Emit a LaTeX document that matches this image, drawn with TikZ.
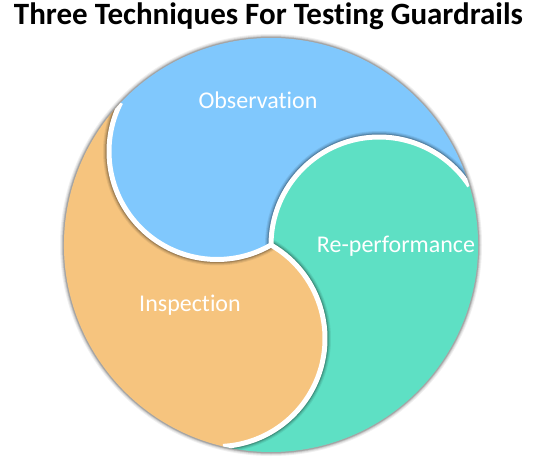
\documentclass[tikz,border=0pt]{standalone}
\usepackage{fontspec}
\setmainfont{Carlito}[Ligatures=NoCommon]
\usetikzlibrary{calc}
\definecolor{cblue}{RGB}{128,200,253}
\definecolor{cgreen}{RGB}{94,224,196}
\definecolor{corange}{RGB}{246,196,126}
\tikzset{
  lbl/.style={text=white, font=\fontsize{24}{28}\selectfont, inner sep=0pt},
  ttl/.style={text=black, font=\bfseries\fontsize{31}{36}\selectfont, inner sep=0pt, anchor=base},
  gap/.style={draw=white, line width=5pt},
}
\begin{document}
\begin{tikzpicture}[x=1pt,y=1pt]
\useasboundingbox (0,0) rectangle (540,459);
\coordinate (O) at (271,214);
\def\R{207}
\def\r{108}
% outer soft shadow
\foreach \w/\o in {7/.06,5/.08,3/.12,1.5/.15}
  \draw[black, opacity=\o, line width=\w pt] (O) circle[radius=\R+0.5];
% fills
\fill[cgreen] (O) arc[start angle=180,end angle=33.18,radius=\r]
  arc[start angle=16.59,end angle=-103.41,radius=\R]
  arc[start angle=-86.82,end angle=60,radius=\r] -- cycle;
\fill[cblue] (O) arc[start angle=300,end angle=153.18,radius=\r]
  arc[start angle=136.59,end angle=16.59,radius=\R]
  arc[start angle=33.18,end angle=180,radius=\r] -- cycle;
\fill[corange] (O) arc[start angle=60,end angle=-86.82,radius=\r]
  arc[start angle=-103.41,end angle=-223.41,radius=\R]
  arc[start angle=153.18,end angle=300,radius=\r] -- cycle;
% shadows of the bulges, on the neighbouring piece
\begin{scope}
  \clip (O) circle[radius=\R];
  \foreach \p in {0,120,240}{
    \foreach \w/\o in {7/.07,5/.09,3/.12,1.5/.15}
      \draw[black, opacity=\o, line width=\w pt]
        ($(O)+(\p+180:2.5)$) arc[start angle=\p+180,end angle=\p+33.18,radius=\r+2.5];
  }
  \foreach \p in {0,120,240}
    \draw[gap] (O) arc[start angle=\p+180,end angle=\p+33.18,radius=\r];
\end{scope}
% labels
\node[lbl] (obs) at (258,359) {Observation};
\node[lbl] (rep) at (396,213) {Re-performance};
\node[lbl] (ins) at (190,154) {Inspection};
\node[ttl] (title) at (268.5,434) {Three Techniques For Testing Guardrails};
\end{tikzpicture}
\end{document}
